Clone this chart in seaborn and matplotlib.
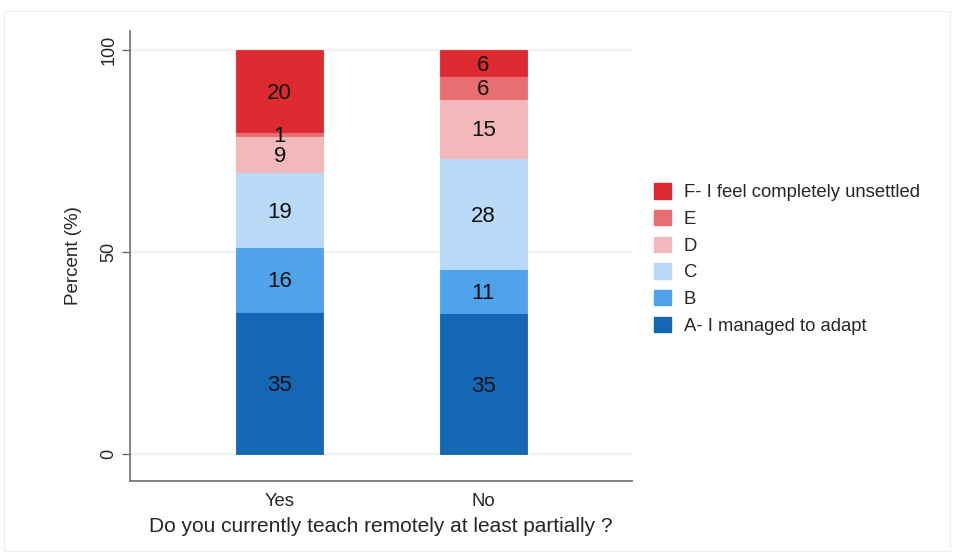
import matplotlib
matplotlib.use("Agg")
import matplotlib.pyplot as plt
from matplotlib.patches import Patch, Rectangle
import numpy as np
import pandas as pd
import seaborn as sns

# Survey answers, stacked from A (bottom) to F (top)
groups = ["Yes", "No"]
levels = ["A- I managed to adapt", "B", "C", "D", "E", "F- I feel completely unsettled"]
pct_yes = [35.2, 16.0, 18.6, 8.9, 1.0, 20.3]
pct_no = [34.8, 10.9, 27.6, 14.6, 5.7, 6.4]
level_colors = ["#1467B2", "#4EA3EA", "#B8DAF6", "#F2B8BA", "#E86E72", "#DC2A30"]
y_ticks = [0, 50, 100]

sns.set_style("white")
plt.rcParams["font.family"] = ["Liberation Sans", "DejaVu Sans"]

df = pd.DataFrame({"group": np.repeat(groups, len(levels)),
                   "level": levels * len(groups),
                   "pct": pct_yes + pct_no})

fig = plt.figure(figsize=(9.54, 5.52), dpi=100)
fig.patches.append(Rectangle((4 / 954, 1 - 551 / 552), 946 / 954, 540 / 552,
                             transform=fig.transFigure, fill=False,
                             edgecolor="#f0f0f0", linewidth=1))
ax = fig.add_axes([130 / 954, 1 - 481 / 552, 502 / 954, 450 / 552])

bottom = np.zeros(len(groups))
for lvl, col in zip(levels, level_colors):
    sub = df[df["level"] == lvl].set_index("group").loc[groups].reset_index()
    sns.barplot(data=sub, x="group", y="pct", order=groups, bottom=bottom,
                color=col, width=0.43, saturation=1, edgecolor=col,
                linewidth=0.6, ax=ax, zorder=3)
    for i, v in enumerate(sub["pct"]):
        ax.text(i, bottom[i] + v / 2, f"{v:.0f}", ha="center", va="center_baseline",
                fontsize=16, color="#111111", zorder=4)
    bottom = bottom + sub["pct"].to_numpy()

ax.set_xlim(-0.735, 1.73)
ax.set_ylim(-6.7, 104.7)
ax.set_yticks(y_ticks)
ax.set_yticklabels([str(t) for t in y_ticks], rotation=90, va="center", fontsize=13)
for t in y_ticks:
    ax.axhline(t, color="#EAF2F3", linewidth=1.5, zorder=1)
ax.tick_params(axis="y", length=6, width=1, color="#666666", pad=3, left=True)
ax.tick_params(axis="x", length=0, labelsize=13.3, pad=9)

for s in ["top", "right"]:
    ax.spines[s].set_visible(False)
for s in ["left", "bottom"]:
    ax.spines[s].set_color("#777777")
    ax.spines[s].set_linewidth(1.3)

ax.set_ylabel("Percent (%)", fontsize=13.5, labelpad=13)
ax.set_xlabel("Do you currently teach remotely at least partially ?", fontsize=15, labelpad=5)

handles = [Patch(facecolor=c, edgecolor=c) for c in level_colors[::-1]]
fig.legend(handles, levels[::-1], loc="upper left",
           bbox_to_anchor=(647 / 954, 1 - 176 / 552), frameon=False,
           fontsize=13.3, handlelength=0.9, handleheight=0.9,
           handletextpad=0.68, labelspacing=0.465, borderaxespad=0)

fig.savefig("out.png", dpi=100, facecolor="white")
